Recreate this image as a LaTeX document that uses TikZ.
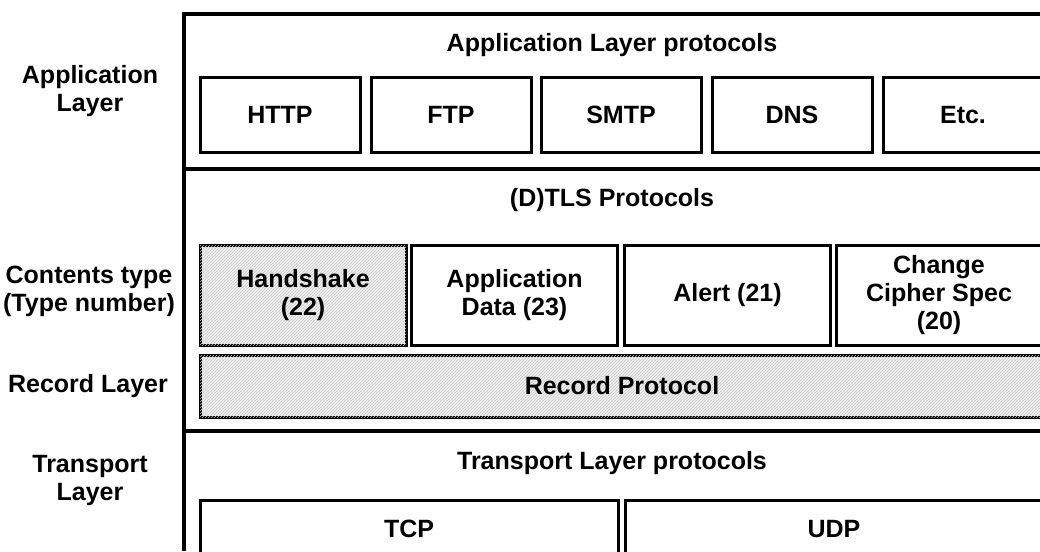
\documentclass[tikz,border=0pt]{standalone}
\usepackage{fontspec}
\setmainfont{Liberation Sans}
\usepackage{tikz}
\usetikzlibrary{patterns}
\usepackage{xcolor}
\definecolor{hatchbg}{RGB}{240, 240, 240}
\definecolor{hatchln}{RGB}{200, 200, 200}

\begin{document}
\begin{tikzpicture}[x=1pt, y=-1pt,
    every node/.style={font=\fontsize{25}{28}\selectfont\bfseries, align=center, inner sep=0pt},
    protobox/.style={draw, line width=3pt, minimum width=160pt, minimum height=75pt, text height=18pt, text depth=0pt},
    typebox/.style={draw, line width=3pt, minimum width=206pt, minimum height=100pt},
    hatched/.style={fill=hatchbg, postaction={pattern=north east lines, pattern color=hatchln}},
    frameline/.style={line width=4pt}]
      \useasboundingbox (0,0) rectangle (1040,551);
      \clip (0,0) rectangle (1040,551);

      % outer frame and layer separators
      \draw[frameline] (184,551) -- (184,14) -- (1050,14);
      \draw[frameline] (184,169) -- (1050,169);
      \draw[frameline] (184,431) -- (1050,431);

      % left column labels
      \node (lblapp) at (90,91) {Application\\Layer};
      \node (lbltype) at (89,291) {Contents type\\(Type number)};
      \node (lblrec) at (88,386) {Record Layer};
      \node (lbltrans) at (90,480) {Transport\\Layer};

      % application layer
      \node (apptitle) at (612,45) {Application Layer protocols};
      \node[protobox] (http) at (280,114.5) {HTTP};
      \node[protobox] (ftp) at (451,114.5) {FTP};
      \node[protobox] (smtp) at (621,114.5) {SMTP};
      \node[protobox] (dns) at (792,114.5) {DNS};
      \node[protobox] (etc) at (963,114.5) {Etc.};

      % (D)TLS
      \node (tlstitle) at (612,200) {(D)TLS Protocols};
      \node[typebox, hatched] (handshake) at (303,295) {Handshake\\(22)};
      \node[typebox] (appdata) at (514.5,295) {Application\\Data (23)};
      \node[typebox] (alert) at (727.5,295) {Alert (21)};
      \node[typebox] (ccs) at (939,295) {Change\\Cipher Spec\\(20)};
      \node[draw, line width=3pt, hatched, minimum width=844pt, minimum height=62pt] (record) at (622,386) {Record Protocol};

      % transport layer
      \node (transtitle) at (612,463) {Transport Layer protocols};
      \node[protobox, minimum width=418pt, minimum height=56pt] (tcp) at (409,528) {TCP};
      \node[protobox, minimum width=418pt, minimum height=56pt] (udp) at (834,528) {UDP};
    \end{tikzpicture}
\end{document}
